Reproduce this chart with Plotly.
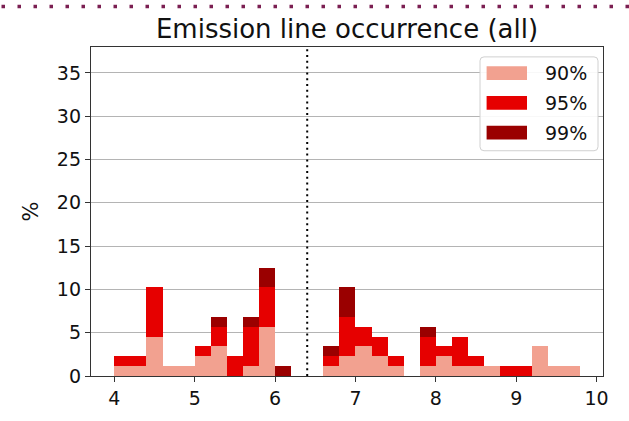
import plotly.graph_objects as go

# ---- data (percent of sources per 0.2-wide bin) ----
bin_centers = [4.1, 4.3, 4.5, 4.7, 4.9, 5.1, 5.3, 5.5, 5.7, 5.9, 6.1, 6.3, 6.5,
               6.7, 6.9, 7.1, 7.3, 7.5, 7.7, 7.9, 8.1, 8.3, 8.5, 8.7, 8.9, 9.1,
               9.3, 9.5, 9.7]
pct_90 = [1.14, 1.14, 4.55, 1.14, 1.14, 2.27, 3.41, 0.00, 1.14, 5.68, 0.00, 0.00, 0.00,
          1.14, 2.27, 3.41, 2.27, 1.14, 0.00, 1.14, 2.27, 1.14, 1.14, 1.14, 0.00, 0.00,
          3.41, 1.14, 1.14]
pct_95 = [1.14, 1.14, 5.68, 0.00, 0.00, 1.14, 2.27, 2.27, 4.55, 4.55, 0.00, 0.00, 0.00,
          1.14, 4.55, 2.27, 2.27, 1.14, 0.00, 3.41, 1.14, 3.41, 1.14, 0.00, 1.14, 1.14,
          0.00, 0.00, 0.00]
pct_99 = [0.00, 0.00, 0.00, 0.00, 0.00, 0.00, 1.14, 0.00, 1.14, 2.27, 1.14, 0.00, 0.00,
          1.14, 3.41, 0.00, 0.00, 0.00, 0.00, 1.14, 0.00, 0.00, 0.00, 0.00, 0.00, 0.00,
          0.00, 0.00, 0.00]
series_names = ["90%", "95%", "99%"]
series_colors = ["#f2a190", "#e60000", "#9a0000"]
x_ticks = [4, 5, 6, 7, 8, 9, 10]
y_ticks = [0, 5, 10, 15, 20, 25, 30, 35]
divider_x = 6.4
title_text = "Emission line occurrence (all)"

W, H = 629, 421
L, R, T, B = 91, 26, 47, 41
PW, PH = W - L - R, H - T - B


def px_x(p):
    return (p - L) / PW


def px_y(p):
    return (H - B - p) / PH


FONT = "DejaVu Sans"
fig = go.Figure()
for name, vals, col in zip(series_names, [pct_90, pct_95, pct_99], series_colors):
    fig.add_trace(go.Bar(x=bin_centers, y=vals, width=0.2, name=name,
                         marker=dict(color=col, line=dict(width=0)),
                         showlegend=False))

shapes = []
# vertical dotted divider
shapes.append(dict(type="line", xref="x", yref="paper", x0=divider_x, x1=divider_x,
                   y0=0, y1=1, line=dict(color="black", width=2, dash="2px,3.8px"),
                   layer="above"))
# decorative dotted border at the top of the page
shapes.append(dict(type="line", xref="paper", yref="paper", x0=px_x(1.5), x1=px_x(W),
                   y0=px_y(6), y1=px_y(6),
                   line=dict(color="#7b1f52", width=3.5, dash="3.5px,12.5px")))

# legend box with rounded corners
bx0, bx1, by0, by1 = 480, 598, 57, 152
r = 4
rx, ry = r / PW, r / PH
X0, X1 = px_x(bx0), px_x(bx1)
Y0, Y1 = px_y(by0), px_y(by1)  # Y0 top, Y1 bottom
path = (f"M {X0+rx},{Y0} L {X1-rx},{Y0} Q {X1},{Y0} {X1},{Y0-ry} "
        f"L {X1},{Y1+ry} Q {X1},{Y1} {X1-rx},{Y1} L {X0+rx},{Y1} "
        f"Q {X0},{Y1} {X0},{Y1+ry} L {X0},{Y0-ry} Q {X0},{Y0} {X0+rx},{Y0} Z")
shapes.append(dict(type="path", xref="paper", yref="paper", path=path,
                   fillcolor="rgba(255,255,255,0.9)", line=dict(color="#d0d0d0", width=1),
                   layer="above"))
annotations = []
patch_tops = [66.6, 96.7, 126.8]
for top, name, col in zip(patch_tops, series_names, series_colors):
    shapes.append(dict(type="rect", xref="paper", yref="paper",
                       x0=px_x(486.6), x1=px_x(527), y0=px_y(top), y1=px_y(top + 13.8),
                       fillcolor=col, line=dict(width=0), layer="above"))
    annotations.append(dict(xref="paper", yref="paper", x=px_x(543), y=px_y(top + 7),
                            text=name, showarrow=False, xanchor="left", yanchor="middle",
                            font=dict(family=FONT, size=19, color="#111")))

fig.update_layout(
    width=W, height=H, margin=dict(l=L, r=R, t=T, b=B, pad=0),
    paper_bgcolor="white", plot_bgcolor="white", barmode="stack", bargap=0,
    font=dict(family=FONT, size=19, color="#111"),
    title=dict(text=title_text, x=px_x((L + W - R) / 2), xref="paper", xanchor="center",
               y=1 - 29 / H, yref="container", yanchor="middle",
               font=dict(family=FONT, size=26, color="#111")),
    shapes=shapes, annotations=annotations,
    xaxis=dict(range=[3.71, 10.08], tickvals=x_ticks, showgrid=False, zeroline=False,
               showline=True, linecolor="#333", linewidth=1.3, mirror=True,
               ticks="outside", ticklen=5, tickwidth=1.2, tickcolor="#333",
               tickfont=dict(family=FONT, size=19, color="#111")),
    yaxis=dict(range=[0, 38], tickvals=y_ticks, showgrid=True, gridcolor="#b4b4b4",
               gridwidth=1, zeroline=False,
               showline=True, linecolor="#333", linewidth=1.3, mirror=True,
               ticks="outside", ticklen=5, tickwidth=1.2, tickcolor="#333",
               tickfont=dict(family=FONT, size=19, color="#111"),
               title=dict(text="%", font=dict(family=FONT, size=21, color="#111"),
                          standoff=12)),
)

fig.write_html("out.html")
